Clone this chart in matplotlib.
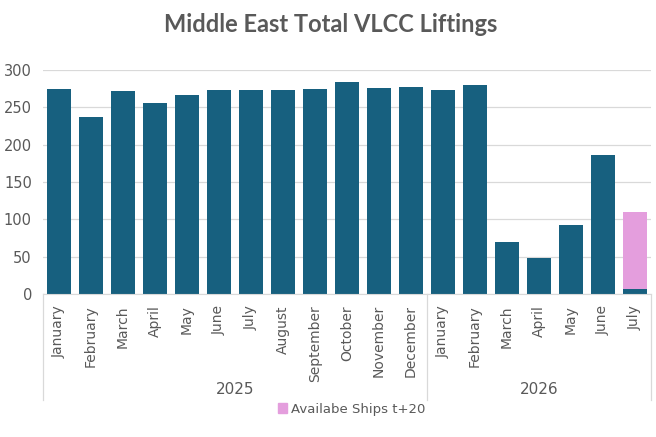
import matplotlib
matplotlib.use("Agg")
import matplotlib.pyplot as plt
import matplotlib.transforms as mtransforms
from matplotlib.patches import Patch

plt.rcParams['font.family'] = ['Liberation Sans Narrow', 'DejaVu Sans']

# data
months = ['January', 'February', 'March', 'April', 'May', 'June', 'July',
          'August', 'September', 'October', 'November', 'December',
          'January', 'February', 'March', 'April', 'May', 'June', 'July']
years = ['2025', '2026']
year_counts = [12, 7]
liftings = [275, 237, 272, 256, 267, 273, 273, 273, 275, 284, 276, 277,
            273, 280, 70, 48, 92, 186, 7]
available = [0, 0, 0, 0, 0, 0, 0, 0, 0, 0, 0, 0,
             0, 0, 0, 0, 0, 0, 103]

dark = '#17607F'
pink = '#E49EDD'
grey = '#595959'

fig = plt.figure(figsize=(6.56, 4.37), dpi=100)
W, H = 656, 437
ax = fig.add_axes([43 / W, 1 - 294 / H, (651 - 43) / W, (294 - 70) / H])

x = list(range(len(months)))
ax.bar(x, liftings, width=0.78, color=dark, zorder=2)
ax.bar(x, available, width=0.78, bottom=liftings, color=pink, zorder=2)

ax.set_xlim(-0.5, len(months) - 0.5)
ax.set_ylim(0, 300)
ax.set_yticks(range(0, 301, 50))
ax.yaxis.grid(True, color='#D9D9D9', lw=0.9, zorder=0)
ax.tick_params(axis='y', length=0, pad=8, labelsize=10.5, labelcolor=grey)
for s in ['top', 'right', 'left']:
    ax.spines[s].set_visible(False)
ax.spines['bottom'].set_color('#D9D9D9')

ax.set_xticks(x)
ax.set_xticklabels(months, rotation=90, va='top', ha='center')
ax.tick_params(axis='x', length=0, pad=8, labelsize=10, labelcolor=grey)

# separators and year labels of the two-level category axis
tr = mtransforms.blended_transform_factory(ax.transData, ax.transAxes)
y_bot = (294 - 400) / 224
start = 0
edges = [-0.5]
for yr, n in zip(years, year_counts):
    ax.text(start + (n - 1) / 2, (294 - 390) / 224, yr, transform=tr,
            ha='center', va='center', fontsize=11, color=grey)
    start += n
    edges.append(start - 0.5)
for e in edges:
    ax.plot([e, e], [0, y_bot], transform=tr, color='#D9D9D9', lw=0.9,
            clip_on=False)

fig.text(331 / W, 1 - 24 / H, 'Middle East Total VLCC Liftings',
         ha='center', va='center', fontsize=17, fontweight='bold',
         color=grey, family=['Lato', 'DejaVu Sans'])

fig.legend(handles=[Patch(color=pink, label='Availabe Ships t+20')],
           loc='center', bbox_to_anchor=(352 / W, 1 - 409 / H),
           frameon=False, fontsize=9.5, labelcolor=grey,
           handlelength=0.7, handleheight=0.7, handletextpad=0.3)

fig.savefig('out.png', dpi=100)
